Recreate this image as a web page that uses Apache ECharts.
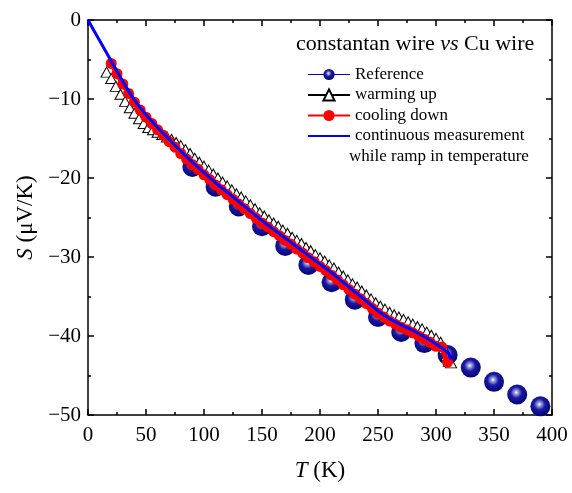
<!DOCTYPE html>
<html><head><meta charset="utf-8">
<script src="https://cdn.jsdelivr.net/npm/echarts@6/dist/echarts.min.js"></script>
<style>html,body{margin:0;padding:0;background:#fff}#c{width:572px;height:493px}</style>
</head><body><div id="c"></div>
<script>
// Reference (spheres)
const T_ref = [90,110,130,150,170,190,210,230,250,270,290,310,330,350,370,390];
const S_ref = [-18.6,-21.1,-23.6,-26.1,-28.6,-31.0,-33.2,-35.4,-37.6,-39.5,-40.9,-42.4,-44.0,-45.8,-47.4,-48.9];
// warming up (triangles)
const T_warm = [16,20,24,28,32,36,40,44,48,52,56,60,64,68,72,76,80,84,88,92,96,100,104,108,112,116,120,124,128,132,136,140,144,148,152,156,160,164,168,172,176,180,184,188,192,196,200,204,208,212,216,220,224,228,232,236,240,244,248,252,256,260,264,268,272,276,280,284,288,292,296,300,304,307,309,311,313];
const S_warm = [-6.6,-7.4,-8.4,-9.4,-10.3,-11.1,-11.8,-12.5,-13.1,-13.6,-13.9,-14.2,-14.5,-14.8,-15.1,-15.5,-15.9,-16.4,-16.9,-17.5,-18.0,-18.5,-19.0,-19.5,-20.0,-20.5,-21.0,-21.5,-22.0,-22.4,-22.9,-23.4,-23.9,-24.4,-24.8,-25.3,-25.7,-26.1,-26.6,-27.0,-27.5,-27.9,-28.3,-28.8,-29.2,-29.7,-30.1,-30.5,-31.0,-31.4,-31.9,-32.4,-32.9,-33.4,-33.8,-34.3,-34.8,-35.3,-35.8,-36.2,-36.6,-37.0,-37.3,-37.6,-37.9,-38.2,-38.5,-38.8,-39.1,-39.5,-39.9,-40.3,-40.8,-41.6,-42.5,-43.2,-43.4];
// cooling down (red)
const T_cool = [20,25,30,35,40,45,50,55,60,65,70,75,80,85,90,95,100,105,110,115,120,125,130,135,140,145,150,155,160,165,170,175,180,185,190,195,200,205,210,215,220,225,230,235,240,245,250,255,260,265,270,275,280,285,290,295,300,305,310];
const S_cool = [-5.5,-6.8,-8.1,-9.3,-10.4,-11.4,-12.3,-13.1,-13.9,-14.6,-15.4,-16.1,-16.9,-17.6,-18.3,-18.9,-19.6,-20.2,-20.9,-21.5,-22.1,-22.7,-23.3,-23.9,-24.5,-25.1,-25.7,-26.2,-26.8,-27.3,-27.9,-28.4,-29.0,-29.5,-30.1,-30.6,-31.2,-31.7,-32.3,-32.9,-33.5,-34.1,-34.7,-35.3,-35.9,-36.5,-37.1,-37.6,-38.1,-38.5,-38.9,-39.2,-39.6,-40.0,-40.4,-40.8,-41.3,-41.4,-43.3];
// continuous measurement (blue line)
const T_cont = [0,10,20,30,40,50,60,70,80,90,100,110,120,130,140,150,160,170,180,190,200,210,220,230,240,250,260,270,280,290,300,310,313];
const S_cont = [0,-2.6,-5.2,-7.8,-10.1,-12.0,-13.6,-15.1,-16.6,-18.0,-19.3,-20.6,-21.8,-23.0,-24.2,-25.4,-26.5,-27.6,-28.7,-29.8,-30.9,-32.0,-33.2,-34.4,-35.6,-36.8,-37.8,-38.6,-39.3,-40.1,-41.0,-42.1,-43.0];
const xTicks = [0,50,100,150,200,250,300,350,400];
const yTicks = [0,-10,-20,-30,-40,-50];

const zip = (a,b) => a.map((v,i)=>[v,b[i]]);
const FONT = '"Liberation Serif","Times New Roman",serif';
const chart = echarts.init(document.getElementById('c'));
const sphere = new echarts.graphic.RadialGradient(0.45,0.4,0.62,[
  {offset:0,color:'#ffffff'},{offset:0.15,color:'#a0a0e0'},{offset:0.45,color:'#1a1aa0'},{offset:1,color:'#00007a'}]);
const axisCommon = {
  axisLine:{show:true,onZero:false,lineStyle:{color:'#000',width:1.5}},
  axisTick:{show:true,inside:true,length:6,lineStyle:{color:'#000',width:1.5}},
  minorTick:{show:true,splitNumber:2,length:3,lineStyle:{color:'#000',width:1.5}},
  splitLine:{show:false}
};
const nameStyle = {color:'#000',fontFamily:FONT,fontSize:23,rich:{i:{fontStyle:'italic',fontFamily:FONT,fontSize:23,color:'#000'}}};
chart.setOption({
  animation:false,
  backgroundColor:'#fff',
  grid:{left:88,right:20,top:20,bottom:78},
  xAxis:[
    Object.assign({type:'value',min:xTicks[0],max:xTicks[xTicks.length-1],interval:50,position:'bottom',
      axisLabel:{color:'#000',fontFamily:FONT,fontSize:21,margin:10},
      name:'{i|T} (K)',nameLocation:'middle',nameGap:44,nameTextStyle:nameStyle},axisCommon),
    Object.assign({type:'value',min:0,max:400,interval:50,position:'top',axisLabel:{show:false}},axisCommon)
  ],
  yAxis:[
    Object.assign({type:'value',min:yTicks[yTicks.length-1],max:yTicks[0],interval:10,position:'left',
      axisLabel:{color:'#000',fontFamily:FONT,fontSize:21,margin:7,formatter:v=>String(v).replace('-','\u2212')},
      name:'{i|S} (μV/K)',nameLocation:'middle',nameGap:46,nameTextStyle:nameStyle},axisCommon),
    Object.assign({type:'value',min:-50,max:0,interval:10,position:'right',axisLabel:{show:false}},axisCommon)
  ],
  legend:{
    orient:'vertical',left:302,top:61,itemGap:3.5,itemWidth:42,itemHeight:14,
    textStyle:{color:'#000',fontFamily:FONT,fontSize:17},
    data:[
      {name:'Reference',lineStyle:{opacity:1,width:1,color:'#0000cc'}},
      {name:'warming up'},
      {name:'cooling down'},
      {name:'continuous measurement',itemStyle:{opacity:0}}
    ]
  },
  graphic:[
    {type:'text',left:296,top:33,style:{text:'{n|constantan wire }{i|vs}{n| Cu wire}',
      rich:{n:{fontFamily:FONT,fontSize:22,fill:'#000'},i:{fontFamily:FONT,fontSize:22,fontStyle:'italic',fill:'#000'}}}},
    {type:'text',left:349,top:148,style:{text:'while ramp in temperature',fontFamily:FONT,fontSize:17,fill:'#000'}}
  ],
  series:[
    {name:'Reference',type:'line',data:zip(T_ref,S_ref),symbol:'circle',symbolSize:20,
      lineStyle:{width:0,opacity:0},itemStyle:{color:sphere},z:2},
    {name:'warming up',type:'line',data:zip(T_warm,S_warm),symbol:'triangle',symbolSize:[11,10],showAllSymbol:true,
      lineStyle:{width:1,color:'#000'},itemStyle:{color:'#fff',borderColor:'#000',borderWidth:1},z:3},
    {name:'cooling down',type:'line',data:zip(T_cool,S_cool),symbol:'circle',symbolSize:11,showAllSymbol:true,
      lineStyle:{width:5,color:'#ff0000'},itemStyle:{color:'#ff0000'},z:4},
    {name:'continuous measurement',type:'line',data:zip(T_cont,S_cont),symbol:'none',smooth:0.3,
      lineStyle:{width:3,color:'#0000ff'},itemStyle:{color:'#0000ff'},z:5}
  ]
});
</script></body></html>
